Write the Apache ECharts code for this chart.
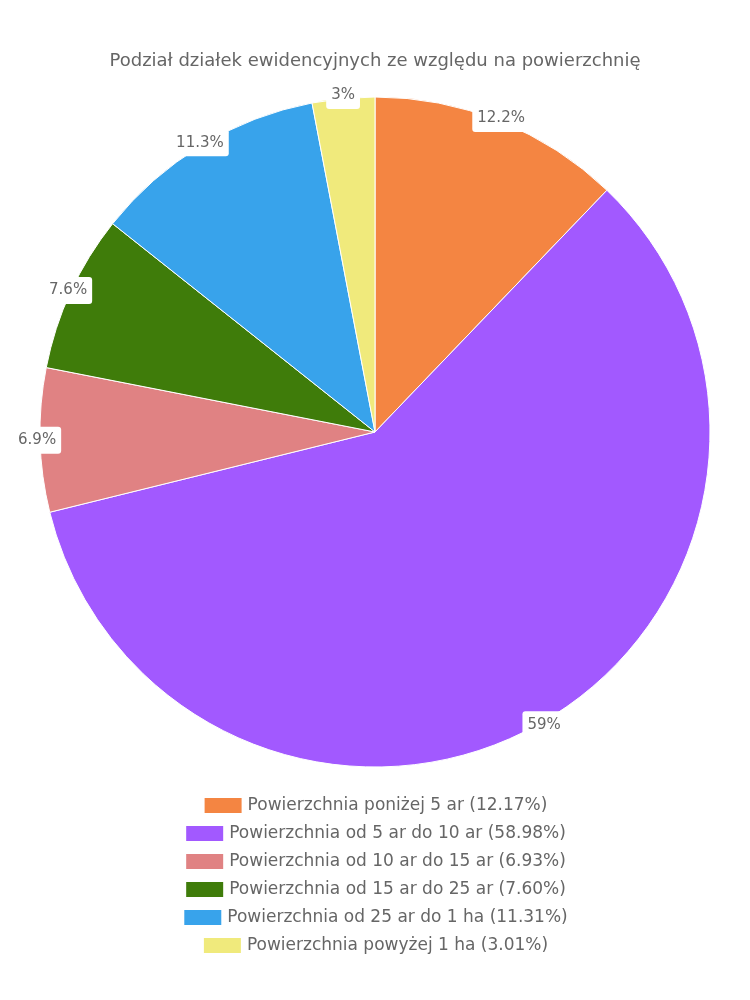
<!DOCTYPE html>
<html><head><meta charset="utf-8">
<script src="https://cdn.jsdelivr.net/npm/echarts@6/dist/echarts.min.js"></script>
<style>html,body{margin:0;padding:0;background:#fff}#c{width:750px;height:1000px}</style>
</head><body><div id="c"></div>
<script>
const title = 'Podział działek ewidencyjnych ze względu na powierzchnię';
const categories = [
  'Powierzchnia poniżej 5 ar',
  'Powierzchnia od 5 ar do 10 ar',
  'Powierzchnia od 10 ar do 15 ar',
  'Powierzchnia od 15 ar do 25 ar',
  'Powierzchnia od 25 ar do 1 ha',
  'Powierzchnia powyżej 1 ha'
];
const values = [12.17, 58.98, 6.93, 7.60, 11.31, 3.01];
const colors = ['#F48542', '#A259FF', '#E08283', '#3F7C0A', '#38A3EB', '#F0EA7C'];

const FONT = 'DejaVu Sans';
const data = categories.map((c, i) => ({ name: c, value: values[i], itemStyle: { color: colors[i] } }));
const center = ['50%', 432];
const R = 335;

const legends = categories.map((c, i) => ({
  data: [c],
  left: 'center',
  top: 791 + i * 28,
  icon: 'rect',
  itemWidth: 39,
  itemHeight: 17,
  itemGap: 10,
  selectedMode: false,
  textStyle: { color: '#666', fontSize: 17, fontFamily: FONT },
  formatter: n => n + ' (' + values[categories.indexOf(n)].toFixed(2) + '%)'
}));

const chart = echarts.init(document.getElementById('c'));
chart.setOption({
  animation: false,
  backgroundColor: '#fff',
  title: { text: title, left: 'center', top: 47, textStyle: { color: '#666', fontSize: 18, fontWeight: 'normal', fontFamily: FONT } },
  legend: legends,
  series: [
    {
      type: 'pie',
      center: center,
      radius: [0, R],
      startAngle: 90,
      clockwise: true,
      data: data,
      itemStyle: { borderColor: '#fff', borderWidth: 1 },
      label: { show: false },
      labelLine: { show: false },
      emphasis: { disabled: true }
    },
    {
      type: 'pie',
      center: center,
      radius: [R - 10, R + 10],
      startAngle: 90,
      clockwise: true,
      silent: true,
      data: categories.map((c, i) => ({ name: c, value: values[i] })),
      itemStyle: { color: 'rgba(0,0,0,0)' },
      label: {
        show: true,
        position: 'inside',
        formatter: p => parseFloat(p.value.toFixed(1)) + '%',
        color: '#666',
        fontSize: 15,
        fontFamily: FONT,
        backgroundColor: '#fff',
        borderRadius: 3,
        padding: [6, 5, 6, 5]
      },
      labelLine: { show: false },
      emphasis: { disabled: true }
    }
  ]
});
</script></body></html>
